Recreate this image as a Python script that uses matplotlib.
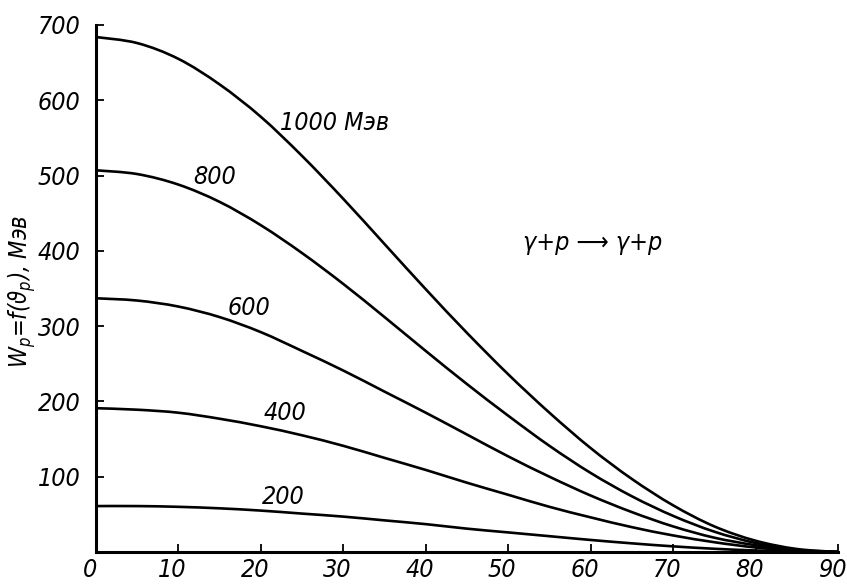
import matplotlib
matplotlib.use("Agg")
import matplotlib.pyplot as plt
from matplotlib.path import Path
from matplotlib.patches import PathPatch
from matplotlib.transforms import ScaledTranslation

# Recoil proton kinetic energy vs. recoil angle for several photon energies
angles = [0, 5, 10, 15, 20, 25, 30, 35, 40, 45, 50, 55, 60, 65, 70, 75, 80, 85, 90]

w_1000 = [684, 676, 655, 621, 578, 526, 469, 409, 349, 291, 236, 185, 138, 97, 62, 34, 15, 4, 0]
w_800 = [507, 502, 488, 465, 434, 397, 356, 312, 267, 223, 181, 141, 105, 74, 48, 27, 12, 3, 0]
w_600 = [337, 334, 326, 312, 292, 267, 241, 213, 185, 156, 127, 100, 75, 53, 34, 19, 9, 2, 0]
w_400 = [191, 189, 185, 177, 167, 155, 141, 125, 109, 92, 76, 60, 46, 33, 22, 13, 6, 1.5, 0]
w_200 = [61, 61, 60, 58, 55, 51, 47, 42, 37, 31, 26, 21, 16, 11.5, 7.5, 4.3, 2, 0.5, 0]

curves = [w_1000, w_800, w_600, w_400, w_200]
curve_labels = ["1000 Мэв", "800", "600", "400", "200"]
label_pos = [(22.3, 570), (11.8, 498), (15.9, 324), (20.3, 185), (20.1, 73)]

x_ticks = [0, 10, 20, 30, 40, 50, 60, 70, 80, 90]
y_ticks = [100, 200, 300, 400, 500, 600, 700]

FONT = ["DejaVu Sans"]
FS = 18
plt.rcParams["font.family"] = FONT
plt.rcParams["font.style"] = "italic"
plt.rcParams["font.stretch"] = "condensed"
plt.rcParams["mathtext.fontset"] = "custom"
plt.rcParams["mathtext.it"] = "DejaVu Sans:italic"
plt.rcParams["mathtext.rm"] = "DejaVu Sans:italic"


def smooth_path(xs, ys):
    """Catmull-Rom curve through the points, as cubic Bezier segments."""
    pts = list(zip(xs, ys))
    verts = [pts[0]]
    codes = [Path.MOVETO]
    n = len(pts)
    for i in range(n - 1):
        p0 = pts[i - 1] if i > 0 else pts[i]
        p1 = pts[i]
        p2 = pts[i + 1]
        p3 = pts[i + 2] if i + 2 < n else pts[i + 1]
        c1 = (p1[0] + (p2[0] - p0[0]) / 6, p1[1] + (p2[1] - p0[1]) / 6)
        c2 = (p2[0] - (p3[0] - p1[0]) / 6, p2[1] - (p3[1] - p1[1]) / 6)
        verts += [c1, c2, p2]
        codes += [Path.CURVE4] * 3
    return Path(verts, codes)


fig = plt.figure(figsize=(8.47, 5.86), dpi=100)
ax = fig.add_axes([96 / 847, 34 / 586, (838 - 96) / 847, (552 - 25) / 586])

for w in curves:
    ax.add_patch(PathPatch(smooth_path(angles, w), fill=False,
                           edgecolor="black", lw=1.9, capstyle="round"))

for text, (x, y) in zip(curve_labels, label_pos):
    ax.text(x, y, text, fontsize=FS, ha="left", va="center")

ax.text(51.8, 410, "γ+p ⟶ γ+p", fontsize=FS, ha="left", va="center")

ax.set_xlim(0, 90)
ax.set_ylim(0, 700)
ax.set_xticks(x_ticks)
ax.set_yticks(y_ticks)
ax.set_xticklabels([str(t) for t in x_ticks])
ax.set_yticklabels([str(t) for t in y_ticks])
ax.tick_params(direction="in", length=6, width=1.3, labelsize=FS, color="black")
ax.tick_params(axis="y", pad=11)
ax.tick_params(axis="x", pad=4)

# x tick labels sit slightly left of their ticks
shift = ScaledTranslation(-6 / 100, 0, fig.dpi_scale_trans)
for lab in ax.get_xticklabels():
    lab.set_transform(lab.get_transform() + shift)

for side in ["top", "right"]:
    ax.spines[side].set_visible(False)
for side in ["left", "bottom"]:
    ax.spines[side].set_linewidth(2.2)

ax.set_ylabel(r"$W_p$=f($\vartheta_p$), Мэв", fontsize=17)
ax.yaxis.set_label_coords(-(96 - 38) / 742, (552 - 291) / 527)

fig.savefig("out.png", dpi=100)
